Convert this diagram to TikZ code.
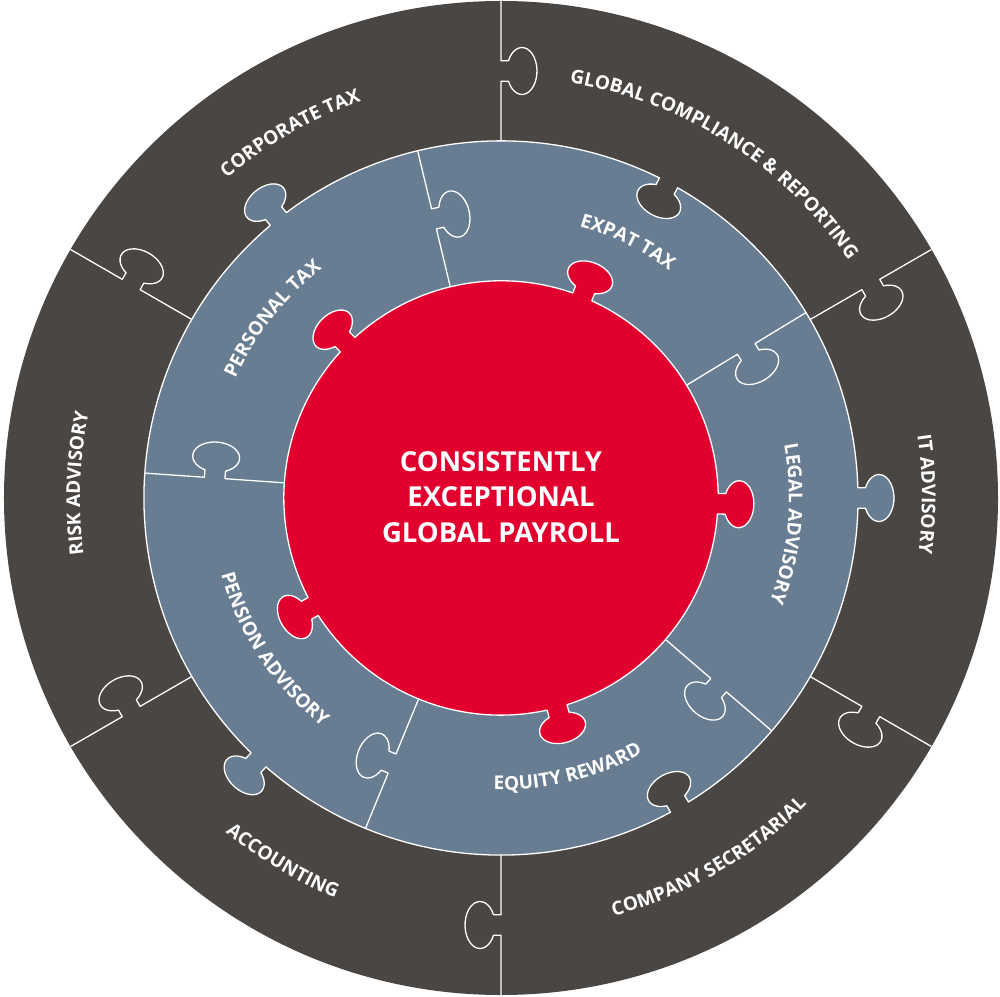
\documentclass[tikz,border=0pt]{standalone}
\usepackage{fontspec}
\setsansfont{Open Sans}
\usetikzlibrary{decorations.text}
\definecolor{ringdark}{RGB}{74,70,67}
\definecolor{ringblue}{RGB}{104,124,146}
\definecolor{corered}{RGB}{226,0,46}
\newcommand\lab{\sffamily\bfseries\fontsize{19}{22}\selectfont\color{white}}
% puzzle knob, traversed from local (+w,0) to (-w,0), head towards local +y
\def\pzk{-- (10.3,0) -- (10.3,7.5) arc[start angle=-64,end angle=244,x radius=23.5,y radius=15] -- (-10.3,0)}
% same knob traversed from local (-w,0) to (+w,0)
\def\pzkr{-- (-10.3,0) -- (-10.3,7.5) arc[start angle=244,end angle=-64,x radius=23.5,y radius=15] -- (10.3,0)}
\begin{document}
\begin{tikzpicture}[x=1pt,y=1pt,
  seam/.style={draw=white,line width=1.3pt,line join=round},
  piece/.style={draw=white,line width=1.3pt,line join=round},
  arclabel/.style={decorate,decoration={text along path,text align=center,text={|\lab|#1}}}]
\useasboundingbox (-501,-498) rectangle (499,498);
% outer dark ring
\fill[ringdark] (0,0) circle[radius=497];
% seams of the outer ring
\draw[seam] (90:357) {[shift={(90:427)},rotate=270] \pzk} -- (90:497);
\draw[seam] (30:357) {[shift={(30:427)},rotate=210] \pzk} -- (30:497);
\draw[seam] (-30:357) {[shift={(-30:427)},rotate=150] \pzk} -- (-30:497);
\draw[seam] (-90:357) {[shift={(-90:427)},rotate=90] \pzk} -- (-90:497);
\draw[seam] (-150:357) {[shift={(-150:427)},rotate=30] \pzk} -- (-150:497);
\draw[seam] (150:357) {[shift={(150:427)},rotate=330] \pzk} -- (150:497);
% blue ring
\path[piece,fill=ringblue] (1.653:357) arc[start angle=1.653,end angle=60.347,radius=357]
  {[shift={(62:357)},rotate=152] \pzkr}
  arc[start angle=63.653,end angle=126.947,radius=357]
  {[shift={(128.6:357)},rotate=38.6] \pzk}
  arc[start angle=130.253,end angle=225.547,radius=357]
  {[shift={(227.2:357)},rotate=137.2] \pzk}
  arc[start angle=228.853,end angle=298.347,radius=357]
  {[shift={(300:357)},rotate=390] \pzkr}
  arc[start angle=301.653,end angle=358.347,radius=357]
  {[shift={(0:357)},rotate=-90] \pzk} -- cycle;
% seams of the blue ring
\draw[seam] (103.5:217) {[shift={(103.5:287)},rotate=283.5] \pzk} -- (103.5:357);
\draw[seam] (31.3:217) {[shift={(31.3:287)},rotate=211.3] \pzk} -- (31.3:357);
\draw[seam] (-40.7:217) {[shift={(-40.7:287)},rotate=139.3] \pzk} -- (-40.7:357);
\draw[seam] (247.7:217) {[shift={(247.7:287)},rotate=427.7] \pzk} -- (247.7:357);
\draw[seam] (176:217) {[shift={(176:287)},rotate=356] \pzk} -- (176:357);
% red core
\path[piece,fill=corered] (-72.28:217) arc[start angle=-72.28,end angle=-4.22,radius=217]
  {[shift={(-1.5:217)},rotate=-91.5] \pzk}
  arc[start angle=1.22,end angle=65.28,radius=217]
  {[shift={(68:217)},rotate=-22] \pzk}
  arc[start angle=70.72,end angle=132.28,radius=217]
  {[shift={(135:217)},rotate=45] \pzk}
  arc[start angle=137.72,end angle=207.28,radius=217]
  {[shift={(210:217)},rotate=120] \pzk}
  arc[start angle=212.72,end angle=282.28,radius=217]
  {[shift={(285:217)},rotate=195] \pzk} -- cycle;
% outer ring labels
\path[arclabel={CORPORATE TAX}] (160:421) arc[start angle=160,end angle=80,radius=421];
\path[arclabel={GLOBAL COMPLIANCE {\&} REPORTING}] (97.5:421) arc[start angle=97.5,end angle=17.5,radius=421];
\path[arclabel={IT ADVISORY}] (40.5:421) arc[start angle=40.5,end angle=-39.5,radius=421];
\path[arclabel={RISK ADVISORY}] (218:421) arc[start angle=218,end angle=138,radius=421];
\path[arclabel={COMPANY SECRETARIAL}] (-100:433) arc[start angle=-100,end angle=-20,radius=433];
\path[arclabel={ACCOUNTING}] (199:433) arc[start angle=199,end angle=279,radius=433];
% blue ring labels
\path[arclabel={EXPAT TAX}] (103.7:283) arc[start angle=103.7,end angle=23.7,radius=283];
\path[arclabel={PERSONAL TAX}] (181.9:291) arc[start angle=181.9,end angle=101.9,radius=291];
\path[arclabel={LEGAL ADVISORY}] (34.8:288) arc[start angle=34.8,end angle=-45.2,radius=288];
\path[arclabel={EQUITY REWARD}] (-116.2:292) arc[start angle=-116.2,end angle=-36.2,radius=292];
\path[arclabel={PENSION ADVISORY}] (173.6:290) arc[start angle=173.6,end angle=253.6,radius=290];
% centre
\node[name=core,text=white,align=center,inner sep=0pt,
  font=\sffamily\bfseries\fontsize{27.5}{35.5}\selectfont] at (0,1.3)
  {CONSISTENTLY\\EXCEPTIONAL\\GLOBAL PAYROLL};
\end{tikzpicture}
\end{document}
